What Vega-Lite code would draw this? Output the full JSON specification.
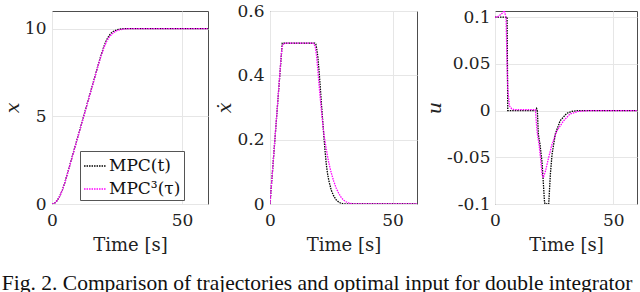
{
  "$schema": "https://vega.github.io/schema/vega-lite/v6.json",
  "background": "white",
  "padding": {"left": 1, "top": 1, "right": 6, "bottom": 0},
  "title": {"text": "Fig. 2. Comparison of trajectories and optimal input for double integrator", "orient": "bottom", "anchor": "start", "frame": "bounds", "font": "Liberation Serif", "fontSize": 21.5, "fontWeight": "normal", "color": "#111111", "offset": 18, "dx": -1},
  "datasets": {
    "d": [
      {"p":"x","s":"MPC(t)","t":0,"v":0},{"p":"x","s":"MPC(t)","t":1,"v":0.05},{"p":"x","s":"MPC(t)","t":2,"v":0.2},{"p":"x","s":"MPC(t)","t":3,"v":0.45},{"p":"x","s":"MPC(t)","t":4,"v":0.8},{"p":"x","s":"MPC(t)","t":5,"v":1.25},{"p":"x","s":"MPC(t)","t":6,"v":1.77},{"p":"x","s":"MPC(t)","t":8,"v":2.82},{"p":"x","s":"MPC(t)","t":10,"v":3.87},{"p":"x","s":"MPC(t)","t":12,"v":4.91},{"p":"x","s":"MPC(t)","t":14,"v":5.96},{"p":"x","s":"MPC(t)","t":16,"v":7.0},{"p":"x","s":"MPC(t)","t":18,"v":8.05},{"p":"x","s":"MPC(t)","t":19,"v":8.54},{"p":"x","s":"MPC(t)","t":20,"v":8.99},{"p":"x","s":"MPC(t)","t":21,"v":9.35},{"p":"x","s":"MPC(t)","t":22,"v":9.61},{"p":"x","s":"MPC(t)","t":23,"v":9.78},{"p":"x","s":"MPC(t)","t":24,"v":9.87},{"p":"x","s":"MPC(t)","t":25,"v":9.93},{"p":"x","s":"MPC(t)","t":26,"v":9.965},{"p":"x","s":"MPC(t)","t":27,"v":9.985},{"p":"x","s":"MPC(t)","t":28,"v":9.995},{"p":"x","s":"MPC(t)","t":29,"v":10},{"p":"x","s":"MPC(t)","t":60,"v":10},
      {"p":"x","s":"MPC³(τ)","t":0,"v":0},{"p":"x","s":"MPC³(τ)","t":1,"v":0.05},{"p":"x","s":"MPC³(τ)","t":2,"v":0.2},{"p":"x","s":"MPC³(τ)","t":3,"v":0.45},{"p":"x","s":"MPC³(τ)","t":4,"v":0.8},{"p":"x","s":"MPC³(τ)","t":5,"v":1.25},{"p":"x","s":"MPC³(τ)","t":6,"v":1.75},{"p":"x","s":"MPC³(τ)","t":8,"v":2.79},{"p":"x","s":"MPC³(τ)","t":10,"v":3.84},{"p":"x","s":"MPC³(τ)","t":12,"v":4.88},{"p":"x","s":"MPC³(τ)","t":14,"v":5.93},{"p":"x","s":"MPC³(τ)","t":16,"v":6.97},{"p":"x","s":"MPC³(τ)","t":18,"v":8.02},{"p":"x","s":"MPC³(τ)","t":19,"v":8.5},{"p":"x","s":"MPC³(τ)","t":20,"v":8.92},{"p":"x","s":"MPC³(τ)","t":21,"v":9.26},{"p":"x","s":"MPC³(τ)","t":22,"v":9.51},{"p":"x","s":"MPC³(τ)","t":23,"v":9.68},{"p":"x","s":"MPC³(τ)","t":24,"v":9.8},{"p":"x","s":"MPC³(τ)","t":25,"v":9.88},{"p":"x","s":"MPC³(τ)","t":26,"v":9.93},{"p":"x","s":"MPC³(τ)","t":27,"v":9.96},{"p":"x","s":"MPC³(τ)","t":28,"v":9.98},{"p":"x","s":"MPC³(τ)","t":30,"v":9.995},{"p":"x","s":"MPC³(τ)","t":32,"v":10},{"p":"x","s":"MPC³(τ)","t":60,"v":10},
      {"p":"xd","s":"MPC(t)","t":0,"v":0},{"p":"xd","s":"MPC(t)","t":5,"v":0.5},{"p":"xd","s":"MPC(t)","t":18.3,"v":0.5},{"p":"xd","s":"MPC(t)","t":18.7,"v":0.497},{"p":"xd","s":"MPC(t)","t":19,"v":0.485},{"p":"xd","s":"MPC(t)","t":19.5,"v":0.46},{"p":"xd","s":"MPC(t)","t":20,"v":0.415},{"p":"xd","s":"MPC(t)","t":20.5,"v":0.365},{"p":"xd","s":"MPC(t)","t":21,"v":0.31},{"p":"xd","s":"MPC(t)","t":21.5,"v":0.26},{"p":"xd","s":"MPC(t)","t":22,"v":0.21},{"p":"xd","s":"MPC(t)","t":22.5,"v":0.163},{"p":"xd","s":"MPC(t)","t":23,"v":0.122},{"p":"xd","s":"MPC(t)","t":23.5,"v":0.094},{"p":"xd","s":"MPC(t)","t":24,"v":0.073},{"p":"xd","s":"MPC(t)","t":25,"v":0.043},{"p":"xd","s":"MPC(t)","t":26,"v":0.025},{"p":"xd","s":"MPC(t)","t":27,"v":0.013},{"p":"xd","s":"MPC(t)","t":28,"v":0.006},{"p":"xd","s":"MPC(t)","t":29,"v":0.002},{"p":"xd","s":"MPC(t)","t":30,"v":0.0005},{"p":"xd","s":"MPC(t)","t":31,"v":0},{"p":"xd","s":"MPC(t)","t":60,"v":0},
      {"p":"xd","s":"MPC³(τ)","t":0,"v":0},{"p":"xd","s":"MPC³(τ)","t":4,"v":0.403},{"p":"xd","s":"MPC³(τ)","t":4.5,"v":0.455},{"p":"xd","s":"MPC³(τ)","t":5,"v":0.49},{"p":"xd","s":"MPC³(τ)","t":5.5,"v":0.497},{"p":"xd","s":"MPC³(τ)","t":6,"v":0.5},{"p":"xd","s":"MPC³(τ)","t":17.6,"v":0.5},{"p":"xd","s":"MPC³(τ)","t":18,"v":0.497},{"p":"xd","s":"MPC³(τ)","t":18.5,"v":0.488},{"p":"xd","s":"MPC³(τ)","t":19,"v":0.46},{"p":"xd","s":"MPC³(τ)","t":19.5,"v":0.418},{"p":"xd","s":"MPC³(τ)","t":20,"v":0.372},{"p":"xd","s":"MPC³(τ)","t":20.5,"v":0.33},{"p":"xd","s":"MPC³(τ)","t":21,"v":0.29},{"p":"xd","s":"MPC³(τ)","t":21.5,"v":0.252},{"p":"xd","s":"MPC³(τ)","t":22,"v":0.218},{"p":"xd","s":"MPC³(τ)","t":22.5,"v":0.193},{"p":"xd","s":"MPC³(τ)","t":23,"v":0.17},{"p":"xd","s":"MPC³(τ)","t":23.5,"v":0.148},{"p":"xd","s":"MPC³(τ)","t":24,"v":0.128},{"p":"xd","s":"MPC³(τ)","t":24.5,"v":0.112},{"p":"xd","s":"MPC³(τ)","t":25,"v":0.097},{"p":"xd","s":"MPC³(τ)","t":26,"v":0.071},{"p":"xd","s":"MPC³(τ)","t":27,"v":0.05},{"p":"xd","s":"MPC³(τ)","t":28,"v":0.034},{"p":"xd","s":"MPC³(τ)","t":29,"v":0.021},{"p":"xd","s":"MPC³(τ)","t":30,"v":0.012},{"p":"xd","s":"MPC³(τ)","t":31,"v":0.007},{"p":"xd","s":"MPC³(τ)","t":32,"v":0.0035},{"p":"xd","s":"MPC³(τ)","t":33,"v":0.0015},{"p":"xd","s":"MPC³(τ)","t":34,"v":0.0005},{"p":"xd","s":"MPC³(τ)","t":35,"v":0},{"p":"xd","s":"MPC³(τ)","t":60,"v":0},
      {"p":"u","s":"MPC(t)","t":0,"v":0.1},{"p":"u","s":"MPC(t)","t":5.1,"v":0.1},{"p":"u","s":"MPC(t)","t":5.4,"v":0},{"p":"u","s":"MPC(t)","t":17.3,"v":0},{"p":"u","s":"MPC(t)","t":17.6,"v":0.002},{"p":"u","s":"MPC(t)","t":17.9,"v":0},{"p":"u","s":"MPC(t)","t":18.3,"v":-0.025},{"p":"u","s":"MPC(t)","t":19,"v":-0.036},{"p":"u","s":"MPC(t)","t":19.9,"v":-0.056},{"p":"u","s":"MPC(t)","t":20.9,"v":-0.097},{"p":"u","s":"MPC(t)","t":21.1,"v":-0.1},{"p":"u","s":"MPC(t)","t":22.7,"v":-0.1},{"p":"u","s":"MPC(t)","t":23.4,"v":-0.068},{"p":"u","s":"MPC(t)","t":24.1,"v":-0.047},{"p":"u","s":"MPC(t)","t":25.5,"v":-0.025},{"p":"u","s":"MPC(t)","t":27.5,"v":-0.011},{"p":"u","s":"MPC(t)","t":30.3,"v":-0.003},{"p":"u","s":"MPC(t)","t":32.4,"v":-0.001},{"p":"u","s":"MPC(t)","t":35,"v":0},{"p":"u","s":"MPC(t)","t":60,"v":0},
      {"p":"u","s":"MPC³(τ)","t":0,"v":0.1},{"p":"u","s":"MPC³(τ)","t":1,"v":0.1},{"p":"u","s":"MPC³(τ)","t":2,"v":0.102},{"p":"u","s":"MPC³(τ)","t":3,"v":0.104},{"p":"u","s":"MPC³(τ)","t":4,"v":0.107},{"p":"u","s":"MPC³(τ)","t":4.7,"v":0.098},{"p":"u","s":"MPC³(τ)","t":5,"v":0.059},{"p":"u","s":"MPC³(τ)","t":5.4,"v":0.023},{"p":"u","s":"MPC³(τ)","t":6.1,"v":0.005},{"p":"u","s":"MPC³(τ)","t":7,"v":0.002},{"p":"u","s":"MPC³(τ)","t":8,"v":0.001},{"p":"u","s":"MPC³(τ)","t":17.1,"v":0.001},{"p":"u","s":"MPC³(τ)","t":17.5,"v":-0.014},{"p":"u","s":"MPC³(τ)","t":17.9,"v":-0.025},{"p":"u","s":"MPC³(τ)","t":18.6,"v":-0.036},{"p":"u","s":"MPC³(τ)","t":19.2,"v":-0.05},{"p":"u","s":"MPC³(τ)","t":19.9,"v":-0.068},{"p":"u","s":"MPC³(τ)","t":20.4,"v":-0.072},{"p":"u","s":"MPC³(τ)","t":21.3,"v":-0.065},{"p":"u","s":"MPC³(τ)","t":22.7,"v":-0.05},{"p":"u","s":"MPC³(τ)","t":24.1,"v":-0.036},{"p":"u","s":"MPC³(τ)","t":26.2,"v":-0.0215},{"p":"u","s":"MPC³(τ)","t":29,"v":-0.011},{"p":"u","s":"MPC³(τ)","t":31.7,"v":-0.0036},{"p":"u","s":"MPC³(τ)","t":35,"v":-0.001},{"p":"u","s":"MPC³(τ)","t":40,"v":0},{"p":"u","s":"MPC³(τ)","t":60,"v":0}
    ]
  },
  "data": {"name": "d"},
  "spacing": 6,
  "hconcat": [
    {
      "width": 156, "height": 193,
      "transform": [{"filter": "datum.p === 'x'"}],
      "mark": {"type": "line", "strokeDash": [1.5, 1], "strokeWidth": 1.3, "clip": true},
      "encoding": {
        "x": {"field": "t", "type": "quantitative", "scale": {"domain": [0, 60], "nice": false}, "axis": {"values": [0, 50], "title": "Time [s]"}},
        "y": {"field": "v", "type": "quantitative", "scale": {"domain": [0, 11], "nice": false}, "axis": {"values": [0, 5, 10], "title": "x"}},
        "color": {"field": "s", "type": "nominal", "scale": {"domain": ["MPC(t)", "MPC³(τ)"], "range": ["#000000", "#ff00ff"]}, "legend": {"orient": "none", "legendX": 28, "legendY": 140, "title": null}}
      }
    },
    {
      "width": 147, "height": 193,
      "transform": [{"filter": "datum.p === 'xd'"}],
      "mark": {"type": "line", "strokeDash": [1.5, 1], "strokeWidth": 1.3, "clip": true},
      "encoding": {
        "x": {"field": "t", "type": "quantitative", "scale": {"domain": [0, 60], "nice": false}, "axis": {"values": [0, 50], "title": "Time [s]"}},
        "y": {"field": "v", "type": "quantitative", "scale": {"domain": [0, 0.6], "nice": false}, "axis": {"values": [0, 0.2, 0.4, 0.6], "format": ".1~f", "title": "ẋ"}},
        "color": {"field": "s", "type": "nominal", "scale": {"domain": ["MPC(t)", "MPC³(τ)"], "range": ["#000000", "#ff00ff"]}, "legend": {"orient": "none", "legendX": 28, "legendY": 140, "title": null}}
      }
    },
    {
      "width": 142, "height": 193,
      "transform": [{"filter": "datum.p === 'u'"}],
      "mark": {"type": "line", "strokeDash": [1.5, 1], "strokeWidth": 1.3, "clip": true},
      "encoding": {
        "x": {"field": "t", "type": "quantitative", "scale": {"domain": [0, 60], "nice": false}, "axis": {"values": [0, 50], "title": "Time [s]"}},
        "y": {"field": "v", "type": "quantitative", "scale": {"domain": [-0.1, 0.1065], "nice": false}, "axis": {"values": [-0.1, -0.05, 0, 0.05, 0.1], "labelExpr": "replace(format(datum.value, '.2~f'), '−', '-')", "title": "u", "labelPadding": 5}},
        "color": {"field": "s", "type": "nominal", "scale": {"domain": ["MPC(t)", "MPC³(τ)"], "range": ["#000000", "#ff00ff"]}, "legend": {"orient": "none", "legendX": 28, "legendY": 140, "title": null}}
      }
    }
  ],
  "config": {
    "view": {"stroke": "#4d4d4d", "strokeWidth": 1},
    "axis": {"labelFont": "DejaVu Serif", "labelFontSize": 17, "labelColor": "#222222", "titleFont": "DejaVu Serif", "titleFontSize": 18, "titleFontWeight": "normal", "titleColor": "#222222", "ticks": false, "domain": false, "grid": true, "gridColor": "#e6e6e6", "gridWidth": 1, "labelFlush": false, "labelOverlap": false, "labelBound": false},
    "axisX": {"labelPadding": 8, "titlePadding": 8},
    "axisY": {"labelPadding": 6, "titlePadding": 2, "titleFontStyle": "italic", "titleFontSize": 19},
    "legend": {"labelFont": "DejaVu Serif", "labelFontSize": 17, "labelColor": "#111111", "symbolType": "stroke", "symbolSize": 480, "symbolStrokeWidth": 1.3, "symbolDash": [1.5, 1], "strokeColor": "#555555", "fillColor": "white", "padding": 3, "labelOffset": 2, "rowPadding": 3, "cornerRadius": 0}
  }
}
